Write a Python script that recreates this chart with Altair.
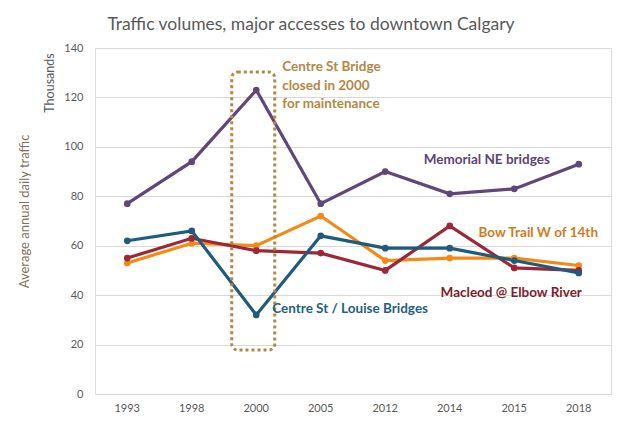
import altair as alt
import pandas as pd

years = ["1993", "1998", "2000", "2005", "2012", "2014", "2015", "2018"]
memorial = [77, 94, 123, 77, 90, 81, 83, 93]
centre = [62, 66, 32, 64, 59, 59, 54, 49]
macleod = [55, 63, 58, 57, 50, 68, 51, 50]
bow = [53, 61, 60, 72, 54, 55, 55, 52]

series_names = ["Bow Trail W of 14th", "Macleod @ Elbow River", "Centre St / Louise Bridges", "Memorial NE bridges"]
series_values = [bow, macleod, centre, memorial]
series_colors = ["#F38A17", "#9B2737", "#1F5B7A", "#5F477A"]

rows = []
for name, vals in zip(series_names, series_values):
    for y, v in zip(years, vals):
        rows.append({"year": y, "value": v, "series": name})
df = pd.DataFrame(rows)

# annotation labels (anchored to data coordinates)
ann_text = ["Memorial NE bridges", "Bow Trail  W of 14th", "Macleod @ Elbow River", "Centre St / Louise Bridges"]
ann_year = ["2014", "2015", "2015", "2000"]
ann_value = [94.7, 65.2, 40.9, 34.4]
ann_dx = [37, 24, -3, 16]
ann_align = ["center", "center", "center", "left"]
ann_color = ["#5B4577", "#D27A1E", "#7E1D2B", "#1F5F86"]

note_text = "Centre St Bridge\nclosed in 2000\nfor maintenance"
note_color = "#B5873F"
box_year = "2000"
box_top = 130.3
box_bottom = 17.8

FONT = "Lato"

xenc = alt.X("year:N", sort=years, title=None,
             axis=alt.Axis(labelAngle=0, ticks=False, domain=False, labelPadding=8,
                           labelColor="#595959", labelFontSize=11, labelFont=FONT))
yscale = alt.Scale(domain=[0, 140])

lines = alt.Chart(df).mark_line(strokeWidth=3.2).encode(
    x=xenc,
    y=alt.Y("value:Q", scale=yscale,
            axis=alt.Axis(values=[0, 20, 40, 60, 80, 100, 120, 140], ticks=False, domain=False,
                          labelPadding=12, labelColor="#595959", labelFontSize=11, labelFont=FONT,
                          gridColor="#D9D9D9", gridWidth=1,
                          title="Average annual daily traffic", titleAngle=270, titleX=-71, titleY=163,
                          titleAlign="center", titleBaseline="middle", titleFontWeight="normal",
                          titleFontSize=13, titleColor="#846E57", titleFont=FONT)),
    color=alt.Color("series:N", scale=alt.Scale(domain=series_names, range=series_colors), legend=None),
    detail="series:N",
)
points = alt.Chart(df).mark_point(filled=True, size=45, opacity=1).encode(
    x=alt.X("year:N", sort=years),
    y=alt.Y("value:Q", scale=yscale),
    color=alt.Color("series:N", scale=alt.Scale(domain=series_names, range=series_colors), legend=None),
)

box_df = pd.DataFrame({"year": [box_year], "top": [box_top], "bottom": [box_bottom]})
box = alt.Chart(box_df).mark_rect(width=43, xOffset=-3, fillOpacity=0, stroke=note_color,
                                  strokeWidth=3, strokeDash=[3, 3], cornerRadius=6).encode(
    x=alt.X("year:N", sort=years),
    y=alt.Y("top:Q", scale=yscale),
    y2="bottom:Q",
)

note_df = pd.DataFrame({"year": ["2000"], "value": [135.0], "text": [note_text]})
note = alt.Chart(note_df).mark_text(align="left", baseline="top", dx=26, fontSize=13.5,
                                    fontWeight="bold", font=FONT, color=note_color,
                                    lineBreak="\n", lineHeight=18.5).encode(
    x=alt.X("year:N", sort=years),
    y=alt.Y("value:Q", scale=yscale),
    text="text:N",
)

labels = []
for t, yr, v, dx, al, c in zip(ann_text, ann_year, ann_value, ann_dx, ann_align, ann_color):
    ldf = pd.DataFrame({"year": [yr], "value": [v], "text": [t]})
    labels.append(
        alt.Chart(ldf).mark_text(align=al, baseline="middle", dx=dx, fontSize=13.5, fontWeight="bold",
                                 font=FONT, color=c).encode(
            x=alt.X("year:N", sort=years),
            y=alt.Y("value:Q", scale=yscale),
            text="text:N",
        )
    )

thousands = alt.Chart(pd.DataFrame({"t": ["Thousands"]})).mark_text(
    angle=270, align="center", baseline="middle", fontSize=12.5, font=FONT, color="#595959"
).encode(x=alt.value(-45), y=alt.value(35), text="t:N")

chart = alt.layer(lines, points, box, note, *labels, thousands).properties(
    width=516, height=346,
    padding={"left": 87, "top": 40, "right": 2, "bottom": 20},
    autosize="none",
    title=alt.TitleParams("Traffic volumes, major accesses to downtown Calgary",
                          anchor="middle", dx=-42, fontSize=17.5, fontWeight="normal",
                          color="#595959", font=FONT, offset=9),
).configure_view(stroke=None).configure(background="white")

chart.save("out.html", embed_options={"renderer": "svg", "actions": False})
